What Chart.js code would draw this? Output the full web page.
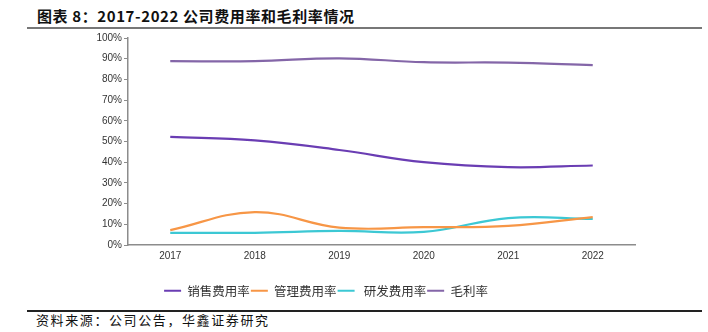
<!DOCTYPE html>
<html>
<head>
<meta charset="utf-8">
<script src="https://cdn.jsdelivr.net/npm/chart.js@4"></script>
<style>
  html, body { margin: 0; padding: 0; background: #fff; }
  body { width: 708px; height: 332px; position: relative; overflow: hidden; font-family: "Noto Sans CJK SC", sans-serif; }
  #title { position: absolute; left: 37px; top: 5px; font-size: 15px; letter-spacing: 0.6px; font-weight: bold; color: #111; white-space: nowrap; }
  #topRule { position: absolute; left: 27px; top: 27px; width: 675px; height: 1.5px; background: #777; }
  #chartBox { position: absolute; left: 0; top: 30px; width: 708px; height: 278px; }
  #bottomRule { position: absolute; left: 27px; top: 310px; width: 675px; height: 1.5px; background: #222; }
  #source { position: absolute; left: 36px; top: 310px; font-size: 13px; letter-spacing: 1.6px; color: #111; white-space: nowrap; }
</style>
</head>
<body>
<div id="title">图表 8：2017-2022 公司费用率和毛利率情况</div>
<div id="topRule"></div>
<div id="chartBox"><canvas id="rates"></canvas></div>
<div id="bottomRule"></div>
<div id="source">资料来源：公司公告，华鑫证券研究</div>
<script>
// 年份与各项比率（%）
const years = ['2017', '2018', '2019', '2020', '2021', '2022'];
const salesRate = [52.2, 50.5, 45.9, 40.0, 37.6, 38.4];
const adminRate = [7.2, 15.9, 8.4, 8.6, 9.2, 13.5];
const rdRate = [5.9, 5.9, 6.8, 6.3, 13.0, 12.6];
const grossMargin = [88.8, 88.8, 90.2, 88.3, 88.1, 86.9];
const yTicks = [0, 10, 20, 30, 40, 50, 60, 70, 80, 90, 100];

const seriesNames = ['销售费用率', '管理费用率', ' 研发费用率', '毛利率'];
const seriesColors = ['#6a3db3', '#f79646', '#3cc8d4', '#8466a8'];
const seriesData = [salesRate, adminRate, rdRate, grossMargin];

const axisGray = '#8c8c8c';

// 图例整体右移，使其居中于 17..635 之间
const legendShift = {
    id: 'legendShift',
    beforeDraw(chart) {
        if (chart.legend) chart.legend.left = 17;
    }
};

new Chart(document.getElementById('rates'), {
    type: 'line',
    data: {
        labels: years,
        datasets: seriesNames.map((name, i) => ({
            label: name,
            data: seriesData[i],
            borderColor: seriesColors[i],
            backgroundColor: seriesColors[i],
            borderWidth: 2.2,
            pointRadius: 0,
            tension: 0.4,
            fill: false
        }))
    },
    options: {
        responsive: true,
        maintainAspectRatio: false,
        animation: false,
        layout: { padding: { left: 0, right: 73, top: 5, bottom: 1 } },
        plugins: {
            tooltip: { enabled: false },
            legend: {
                position: 'bottom',
                labels: {
                    usePointStyle: true,
                    pointStyle: 'line',
                    pointStyleWidth: 17,
                    padding: 1,
                    color: '#333',
                    font: { family: '"Noto Sans CJK SC", sans-serif', size: 12.5 }
                }
            }
        },
        scales: {
            x: {
                offset: true,
                grid: { display: false, drawTicks: false },
                border: { display: true, color: axisGray, width: 1.5 },
                ticks: {
                    color: '#333',
                    padding: 5,
                    font: { family: '"Liberation Sans", Arial, sans-serif', size: 10 }
                },
                afterFit: s => { s.height = 38.5; }
            },
            y: {
                min: 0,
                max: 100,
                afterBuildTicks: s => { s.ticks = yTicks.map(v => ({ value: v })); },
                grid: { display: true, drawOnChartArea: false, drawTicks: true, tickLength: 4, color: axisGray },
                border: { display: true, color: axisGray, width: 1.5 },
                ticks: {
                    color: '#333',
                    padding: 2,
                    callback: v => v + '%',
                    font: { family: '"Liberation Sans", Arial, sans-serif', size: 10 }
                },
                afterFit: s => { s.width = 128; }
            }
        }
    },
    plugins: [legendShift]
});
</script>
</body>
</html>
